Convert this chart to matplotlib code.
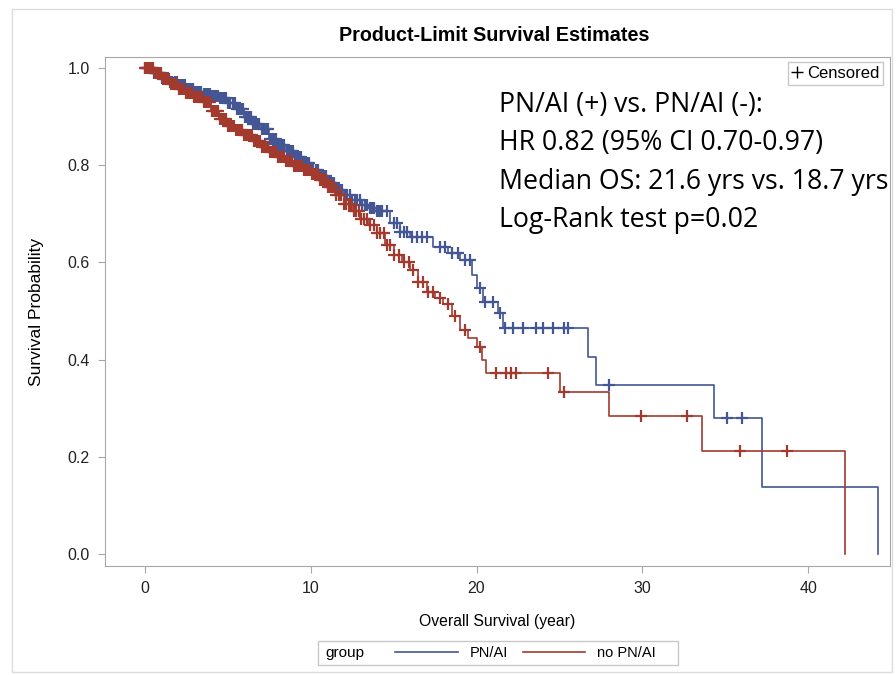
import numpy as np
import matplotlib.pyplot as plt
from matplotlib.lines import Line2D
from matplotlib.patches import Rectangle

plt.rcParams['font.family'] = ['Liberation Sans', 'DejaVu Sans']

blue = '#445694'
red = '#A23A2E'

# PN/AI (+): step times and survival after each step
pn_time = [0, 0.5, 1.0, 1.5, 2.0, 2.5, 3.0, 3.5, 4.0, 4.5, 5.0, 5.5, 6.0, 6.5,
           7.0, 7.5, 8.0, 8.5, 9.0, 9.5, 10.0, 10.5, 11.0, 11.5, 12.0, 12.5,
           13.0, 13.5, 14.0, 14.8, 15.4, 16.0, 17.4, 18.3, 19.0, 19.7, 20.0,
           20.4, 21.3, 21.6, 26.7, 27.2, 34.3, 37.2, 44.2]
pn_surv = [1.0, 0.99, 0.98, 0.972, 0.965, 0.958, 0.952, 0.947, 0.943, 0.938,
           0.928, 0.915, 0.900, 0.886, 0.875, 0.855, 0.842, 0.830, 0.818,
           0.805, 0.790, 0.778, 0.763, 0.750, 0.738, 0.728, 0.718, 0.712,
           0.706, 0.682, 0.663, 0.652, 0.632, 0.620, 0.605, 0.575, 0.547,
           0.518, 0.496, 0.465, 0.405, 0.348, 0.280, 0.138, 0.0]
pn_cens = [0.05, 0.17, 0.3, 0.42, 0.55, 0.67, 0.8, 0.92, 1.05, 1.17, 1.3,
           1.42, 1.55, 1.67, 1.8, 1.92, 2.05, 2.17, 2.3, 2.42, 2.55, 2.67,
           2.8, 2.92, 3.05, 3.17, 3.3, 3.42, 3.55, 3.67, 3.8, 3.92, 4.05, 4.17,
           4.3, 4.42, 4.55, 4.67, 4.8, 4.92, 5.05, 5.17, 5.3, 5.42, 5.55, 5.67,
           5.8, 5.92, 6.05, 6.17, 6.3, 6.42, 6.55, 6.67, 6.8, 6.92, 7.05, 7.17,
           7.3, 7.42, 7.55, 7.67, 7.8, 7.92, 8.05, 8.17, 8.3, 8.42, 8.55, 8.67,
           8.8, 8.92, 9.05, 9.17, 9.3, 9.42, 9.55, 9.67, 9.8, 9.92, 10.05,
           10.17, 10.3, 10.42, 10.55, 10.67, 10.8, 10.92, 11.05, 11.17, 11.3,
           11.42, 11.55, 11.67, 11.8, 11.92, 12.05, 12.2, 12.35, 12.5, 12.65,
           12.8, 12.95, 13.1, 13.25, 13.4, 13.55, 13.7, 13.85, 14.0, 14.1,
           14.2, 14.3, 14.6, 15.0, 15.2, 15.4, 15.6, 15.8, 16.1, 16.4, 16.7,
           17.0, 17.8, 18.1, 18.5, 18.9, 19.3, 19.6, 20.2, 20.5, 21.0, 21.4,
           21.7, 22.2, 22.8, 23.6, 24.0, 24.6, 25.3, 25.5, 28.0, 35.1, 36.0]

# no PN/AI
no_time = [0, 0.5, 1.0, 1.5, 2.0, 2.5, 3.0, 3.5, 4.0, 4.5, 5.0, 5.5, 6.0, 6.5,
           7.0, 7.5, 8.0, 8.5, 9.0, 9.5, 10.0, 10.5, 11.0, 11.5, 12.0, 12.5,
           13.0, 13.5, 14.0, 14.5, 15.0, 15.5, 16.0, 16.5, 17.0, 17.5, 18.0,
           18.5, 19.0, 19.5, 20.0, 20.3, 20.6, 25.0, 28.0, 33.6, 42.2]
no_surv = [1.0, 0.99, 0.978, 0.968, 0.958, 0.948, 0.94, 0.93, 0.912, 0.895,
           0.882, 0.872, 0.862, 0.85, 0.838, 0.828, 0.818, 0.808, 0.798, 0.79,
           0.782, 0.77, 0.755, 0.738, 0.72, 0.705, 0.69, 0.678, 0.66, 0.635,
           0.615, 0.6, 0.585, 0.56, 0.54, 0.527, 0.515, 0.49, 0.46, 0.445,
           0.425, 0.40, 0.373, 0.334, 0.284, 0.212, 0.0]
no_cens = [0.02, 0.12, 0.24, 0.36, 0.48, 0.6, 0.72, 0.84, 0.96, 1.08, 1.2,
           1.32, 1.44, 1.56, 1.68, 1.8, 1.92, 2.04, 2.16, 2.28, 2.4, 2.52,
           2.64, 2.76, 2.88, 3.0, 3.12, 3.24, 3.36, 3.48, 3.6, 3.72, 3.84, 3.96,
           4.08, 4.2, 4.32, 4.44, 4.56, 4.68, 4.8, 4.92, 5.04, 5.16, 5.28, 5.4,
           5.52, 5.64, 5.76, 5.88, 6.0, 6.12, 6.24, 6.36, 6.48, 6.6, 6.72, 6.84,
           6.96, 7.08, 7.2, 7.32, 7.44, 7.56, 7.68, 7.8, 7.92, 8.04, 8.16, 8.28,
           8.4, 8.52, 8.64, 8.76, 8.88, 9.0, 9.12, 9.24, 9.36, 9.48, 9.6, 9.72,
           9.84, 9.96, 10.08, 10.2, 10.32, 10.44, 10.56, 10.68, 10.8, 10.92,
           11.04, 11.16, 11.28, 11.4, 11.55, 11.7, 11.85, 12.0, 12.15, 12.3,
           12.45, 12.6, 12.75, 12.9, 13.05, 13.2, 13.4, 13.6, 13.8, 14.0,
           14.2, 14.4, 14.6, 14.8, 15.0, 15.3, 15.6, 15.9, 16.2, 16.5, 16.8,
           17.1, 17.4, 17.8, 18.3, 18.7, 19.3, 20.2, 21.2, 21.8, 22.1, 22.4,
           24.3, 25.3, 29.9, 32.7, 35.9, 38.7]

x_ticks = [0, 10, 20, 30, 40]
y_ticks = [0.0, 0.2, 0.4, 0.6, 0.8, 1.0]

fig = plt.figure(figsize=(8.96, 6.75), dpi=100)
fig.patches.append(Rectangle((12 / 896, 3 / 675), 880 / 896, 663 / 675,
                             transform=fig.transFigure, fill=False,
                             edgecolor='#dcdcdc', lw=1.0))
ax = fig.add_axes([0.117, 0.1615, 0.876, 0.754])


def step_value(times, surv, c):
    i = np.searchsorted(times, c, side='right') - 1
    return np.asarray(surv)[i]


for t, s, c, col in [(pn_time, pn_surv, pn_cens, blue),
                     (no_time, no_surv, no_cens, red)]:
    ax.step(t, s, where='post', color=col, lw=1.2)
    ax.plot(c, step_value(t, s, c), linestyle='none', marker='+',
            markersize=8, markeredgewidth=1.6, color=col)

ax.set_xlim(-2.4, 44.9)
ax.set_ylim(-0.025, 1.023)
ax.set_xticks(x_ticks)
ax.set_yticks(y_ticks)
ax.set_xticklabels([str(v) for v in x_ticks])
ax.set_yticklabels(['%.1f' % v for v in y_ticks])
for sp in ax.spines.values():
    sp.set_color('#a8a8a8')
ax.tick_params(direction='out', length=5, color='#a8a8a8',
               labelsize=11.5, labelcolor='#222222', pad=6)
ax.set_xlabel('Overall Survival (year)', fontsize=11.3, labelpad=13)
ax.set_ylabel('Survival Probability', fontsize=12.5, labelpad=17)

fig.text(0.552, 0.948, 'Product-Limit Survival Estimates',
         ha='center', va='center', fontsize=14.2, fontweight='bold')

ax.legend([Line2D([], [], marker='+', color='k', linestyle='none',
                  markersize=8)], ['Censored'], loc='upper right',
          fontsize=12, handlelength=0.6, handletextpad=0.3,
          borderpad=0.25, borderaxespad=0, fancybox=False,
          edgecolor='#c8c8c8', framealpha=1,
          bbox_to_anchor=(0.992, 0.990))

note = ['PN/AI (+) vs. PN/AI (-):', 'HR 0.82 (95% CI 0.70-0.97)',
        'Median OS: 21.6 yrs vs. 18.7 yrs', 'Log-Rank test p=0.02']
for i, line in enumerate(note):
    fig.text(499 / 896, 1 - (105 + 38.5 * i) / 675, line, ha='left',
             va='center', fontsize=19.2, family='Open Sans')

# bottom group legend
fig.patches.append(Rectangle((318 / 896, 1 - 665 / 675), 360 / 896, 24 / 675,
                             transform=fig.transFigure, fill=False,
                             edgecolor='#c8c8c8', lw=1.0))
fig.text(325 / 896, 1 - 653 / 675, 'group', ha='left', va='center',
         fontsize=11)
fig.legend([Line2D([], [], color=blue, lw=1.2),
            Line2D([], [], color=red, lw=1.2)], ['PN/AI', 'no PN/AI'],
           ncol=2, loc='center left', bbox_to_anchor=(388 / 896, 1 - 653 / 675),
           frameon=False, fontsize=10.5, handlelength=4.3, handletextpad=0.8,
           columnspacing=1.0, borderpad=0)

fig.savefig('out.png', dpi=100)
